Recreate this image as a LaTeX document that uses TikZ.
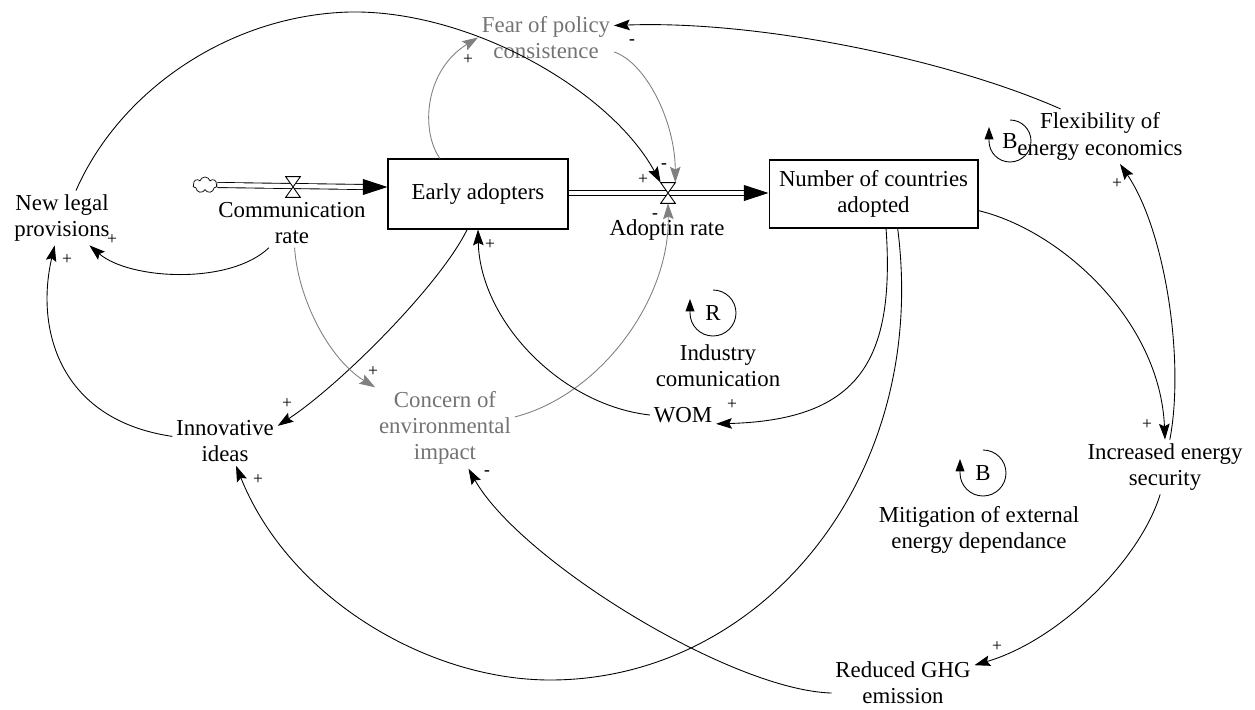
\documentclass[tikz,border=0pt]{standalone}
\usepackage{fontspec}
\setmainfont{Liberation Serif}
\usetikzlibrary{arrows.meta,shapes.symbols}

\begin{document}
\begin{tikzpicture}[x=0.02cm,y=-0.02cm,
	var/.style={align=center,inner sep=2pt,font=\fontsize{13}{15}\selectfont},
	shadow/.style={var,text=black!55},
	stock/.style={draw,line width=0.6pt,align=center,font=\fontsize{13}{15}\selectfont},
	link/.style={line width=0.5pt,-{Stealth[length=9pt,width=6pt,inset=1.5pt]}},
	glink/.style={link,black!50},
	sign/.style={inner sep=0pt,font=\fontsize{10}{10}\selectfont},
	pipe/.style={double,double distance=2.4pt,line width=0.5pt},
	flowtip/.style={line width=0.5pt,-{Triangle[length=14pt,width=9pt]}},
	valve/.style={minimum width=0.28cm,minimum height=0.4cm,inner sep=0pt},
	loop/.style={line width=0.5pt,-{Triangle[length=7pt,width=5pt]}}]
\useasboundingbox (0,0) rectangle (1255,710);

% stocks, source and valves
\node[stock,minimum width=3.6cm,minimum height=1.4cm] (early) at (478,194) {Early adopters};
\node[stock,minimum width=4.18cm,minimum height=1.36cm] (number) at (873.5,194) {Number of countries\\adopted};
\node[cloud,draw,cloud puffs=7,aspect=1.6,minimum width=0.48cm,minimum height=0.32cm,inner sep=0pt] (src) at (205,185) {};
\node[valve] (v1) at (293,187) {};
\node[valve] (v2) at (668,193) {};
\coordinate (e1) at (v1 -| early.west);
\coordinate (e2) at (v2 -| number.west);

\draw[pipe] (src.east) -- ([xshift=-13pt]e1);
\draw[flowtip] ([xshift=-14pt]e1) -- (e1);
\draw[pipe] (early.east |- v2) -- ([xshift=-13pt]e2);
\draw[flowtip] ([xshift=-14pt]e2) -- (e2);
\foreach \v in {v1,v2}
	\draw[fill=white,line width=0.5pt] (\v.north west) -- (\v.north east) -- (\v.south west) -- (\v.south east) -- cycle;

% variables
\node[var] (commrate) at (292,223) {Communication\\rate};
\node[var] (adoptrate) at (667,230) {Adoptin rate};
\node[var] (newlegal) at (62,218) {New legal\\provisions};
\node[var] (innov) at (225,441) {Innovative\\ideas};
\node[shadow] (fear) at (546,37.5) {Fear of policy\\consistence};
\node[shadow] (concern) at (445,428) {Concern of\\environmental\\impact};
\node[var] (wom) at (683,415) {WOM};
\node[var] (flex) at (1100,136.5) {Flexibility of\\energy economics};
\node[var] (increased) at (1165,467) {Increased energy\\security};
\node[var] (reduced) at (903,683) {Reduced GHG\\emission};

% loops
\node[var] (rloop) at (713,313) {R};
\node[var] (b1loop) at (1010,141) {B};
\node[var] (b2loop) at (983,473) {B};
\draw[loop] (rloop.center) ++(0,-23) arc[start angle=90,end angle=-180,radius=0.46cm] -- ++(0,-14);
\draw[loop] (b1loop.center) ++(0,-21) arc[start angle=90,end angle=-180,radius=0.42cm] -- ++(0,-14);
\draw[loop] (b2loop.center) ++(0,-23) arc[start angle=90,end angle=-180,radius=0.46cm] -- ++(0,-14);
\node[var] (industry) at (718,366) {Industry\\comunication};
\node[var] (mitigation) at (979,530) {Mitigation of external\\energy dependance};

% causal links
\draw[link] (commrate.-133) .. controls (230,285) and (130,280) .. (newlegal.-45);
\draw[link] (innov.175) .. controls (60,420) and (35,330) .. (newlegal.-105);
\draw[link] (early.-107) .. controls (440,285) and (340,385) .. (innov.16);
\draw[glink] (commrate.-84) .. controls (298,300) and (330,360) .. (concern.north west);
\draw[glink] (early.137) .. controls (420,130) and (425,70) .. (fear.180);
\draw[glink] (fear.-12) .. controls (645,62) and (675,120) .. (v2.north east);
\draw[link] (newlegal.63) .. controls (120,90) and (230,15) .. (350,12) .. controls (470,10) and (610,90) .. (v2.north west);
\draw[glink] (concern.9) .. controls (600,395) and (670,300) .. (v2.south);
\draw[link] (number.-70) .. controls (895,360) and (860,420) .. (wom.-15);
\draw[link] (wom.west) .. controls (560,405) and (480,320) .. (early.south);
\draw[link] (number.-55) .. controls (930,480) and (760,680) .. (550,680) .. controls (430,680) and (290,600) .. (innov.-66);
\draw[link] (reduced.-172) .. controls (730,690) and (520,560) .. (concern.-60);
\draw[link] (number.-9) .. controls (1060,230) and (1160,320) .. (increased.north);
\draw[link] (increased.80) .. controls (1185,360) and (1165,230) .. (flex.-54);
\draw[link] (flex.145) .. controls (950,60) and (760,20) .. (fear.10);
\draw[link] (increased.-100) .. controls (1140,560) and (1060,640) .. (reduced.14);

% polarities
\node[sign] (s1) at (112,240) {+};
\node[sign] (s2) at (67,260) {+};
\node[sign] (s3) at (287,404) {+};
\node[sign] (s4) at (373,372) {+};
\node[sign] (s5) at (468,60) {+};
\node[sign] (s6) at (664,166) {\textbf{-}};
\node[sign] (s7) at (643,180) {+};
\node[sign] (s8) at (655,216) {\textbf{-}};
\node[sign] (s9) at (732,405) {+};
\node[sign] (s10) at (490,245) {+};
\node[sign] (s11) at (258,480) {+};
\node[sign] (s12) at (487,473) {\textbf{-}};
\node[sign] (s13) at (1147,425) {+};
\node[sign] (s14) at (1117,184) {+};
\node[sign] (s15) at (632,42) {\textbf{-}};
\node[sign] (s16) at (997,647) {+};
\end{tikzpicture}
\end{document}
